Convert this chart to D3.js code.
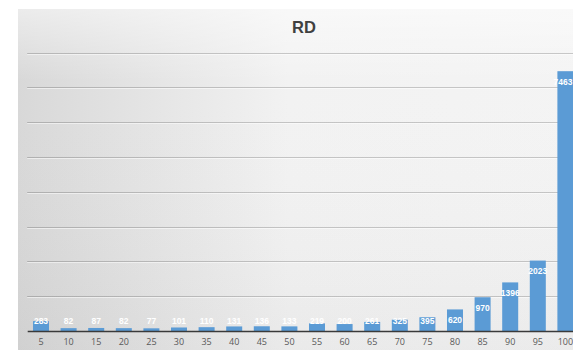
<!DOCTYPE html>
<html>
<head>
<meta charset="utf-8">
<script src="https://cdn.jsdelivr.net/npm/d3@7"></script>
<style>
  html, body { margin: 0; padding: 0; background: #ffffff; }
  svg { display: block; }
</style>
</head>
<body>
<svg id="chart" width="573" height="350"></svg>
<script>
// RD distribution by bucket
const categories = ["5","10","15","20","25","30","35","40","45","50","55","60","65","70","75","80","85","90","95","100"];
const values = [283, 82, 87, 82, 77, 101, 110, 131, 136, 133, 219, 200, 261, 325, 395, 620, 970, 1396, 2023, 7463];
const yTicks = [1000, 2000, 3000, 4000, 5000, 6000, 7000, 8000];
const title = "RD";

const data = categories.map((c, i) => ({ cat: c, val: values[i] }));

const W = 573;
const svg = d3.select("#chart");
const defs = svg.append("defs");

// chart-area background: light on the right, darker toward the left and bottom
const gH = defs.append("linearGradient").attr("id", "bgH")
  .attr("x1", "0").attr("y1", "0").attr("x2", "1").attr("y2", "0");
gH.append("stop").attr("offset", "0").attr("stop-color", "#d8d8d8");
gH.append("stop").attr("offset", "0.45").attr("stop-color", "#f2f2f2");
gH.append("stop").attr("offset", "1").attr("stop-color", "#f4f4f4");

const gV = defs.append("linearGradient").attr("id", "bgV")
  .attr("x1", "0").attr("y1", "0").attr("x2", "0").attr("y2", "1");
gV.append("stop").attr("offset", "0").attr("stop-color", "#ffffff").attr("stop-opacity", 0.5);
gV.append("stop").attr("offset", "0.2").attr("stop-color", "#ffffff").attr("stop-opacity", 0);
gV.append("stop").attr("offset", "1").attr("stop-color", "#000000").attr("stop-opacity", 0.04);

const area = { x: 18, y: 9, w: 600, h: 360 };
svg.append("rect").attr("x", area.x).attr("y", area.y).attr("width", area.w).attr("height", area.h)
  .attr("fill", "url(#bgH)");
svg.append("rect").attr("x", area.x).attr("y", area.y).attr("width", area.w).attr("height", area.h)
  .attr("fill", "url(#bgV)");

// plot area
const plot = { left: 27.2, right: 579.2, top: 52.5, bottom: 331 };

const x = d3.scaleBand()
  .domain(categories)
  .range([plot.left, plot.right])
  .paddingInner(0.42)
  .paddingOuter(0.21);

const y = d3.scaleLinear()
  .domain([0, 8000])
  .range([plot.bottom, plot.top]);

// gridlines
const grid = svg.append("g");
grid.selectAll("line.g").data(yTicks).join("line")
  .attr("class", "g")
  .attr("x1", plot.left).attr("x2", plot.right)
  .attr("y1", d => Math.round(y(d)) + 0.5).attr("y2", d => Math.round(y(d)) + 0.5)
  .attr("stroke", "#000").attr("stroke-opacity", 0.19).attr("stroke-width", 1);
grid.selectAll("line.h").data(yTicks).join("line")
  .attr("class", "h")
  .attr("x1", plot.left).attr("x2", plot.right)
  .attr("y1", d => Math.round(y(d)) + 1.5).attr("y2", d => Math.round(y(d)) + 1.5)
  .attr("stroke", "#fff").attr("stroke-opacity", 0.5).attr("stroke-width", 1);

// bars
svg.append("g").selectAll("rect").data(data).join("rect")
  .attr("x", d => x(d.cat))
  .attr("y", d => y(d.val))
  .attr("width", x.bandwidth())
  .attr("height", d => y(0) - y(d.val))
  .attr("fill", "#5b9bd5");

// baseline axis
const xAxis = d3.axisBottom(x).tickSize(0).tickPadding(8);
const axisG = svg.append("g")
  .attr("transform", `translate(0,${plot.bottom})`)
  .call(xAxis);
axisG.select(".domain").attr("stroke", "#3a3a3a").attr("stroke-width", 1.6);
axisG.selectAll("text")
  .attr("font-family", "'Open Sans', 'Liberation Sans', sans-serif")
  .attr("font-size", 9)
  .attr("fill", "#595959");

// value labels, inside the top of each bar (kept within the visible width)
const labels = svg.append("g").selectAll("text").data(data).join("text")
  .attr("x", d => x(d.cat) + x.bandwidth() / 2)
  .attr("y", d => Math.min(y(d.val) + 10.5, plot.bottom - 10))
  .attr("text-anchor", "middle")
  .attr("dominant-baseline", "central")
  .attr("font-family", "'Liberation Sans', Arial, sans-serif")
  .attr("font-weight", "bold")
  .attr("font-size", 8.5)
  .attr("fill", "#ffffff")
  .text(d => d.val);
labels.each(function (d) {
  const w = this.getComputedTextLength();
  const cx = x(d.cat) + x.bandwidth() / 2;
  d3.select(this).attr("x", Math.min(cx, W - w / 2 - 0.5));
});

// title
svg.append("text")
  .attr("x", 304).attr("y", 27)
  .attr("text-anchor", "middle")
  .attr("dominant-baseline", "central")
  .attr("font-family", "'Liberation Sans', Arial, sans-serif")
  .attr("font-weight", "bold")
  .attr("font-size", 16.5)
  .attr("fill", "#404040")
  .text(title);
</script>
</body>
</html>
